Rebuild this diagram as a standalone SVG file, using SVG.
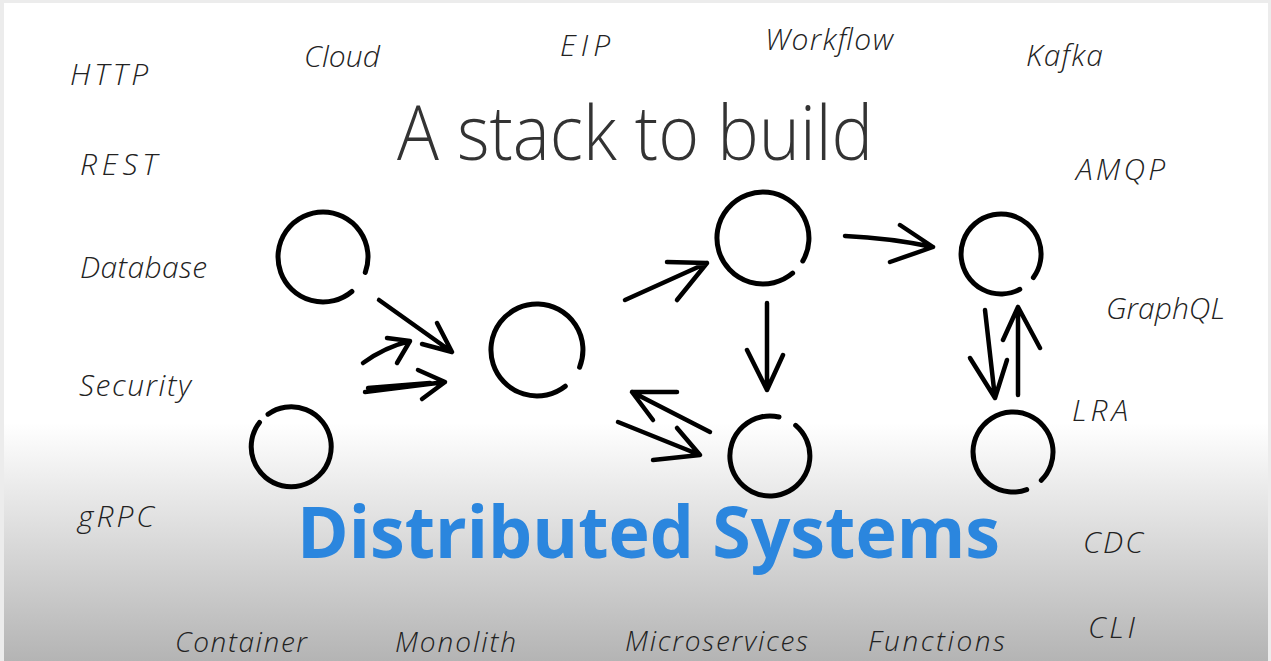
<svg xmlns="http://www.w3.org/2000/svg" width="1271" height="661" viewBox="0 0 1271 661">
<defs>
<linearGradient id="bg" x1="0" y1="0" x2="0" y2="661" gradientUnits="userSpaceOnUse">
<stop offset="0" stop-color="#ffffff"/>
<stop offset="0.64" stop-color="#ffffff"/>
<stop offset="1" stop-color="#b4b4b4"/>
</linearGradient>
<style>
.hand{font-family:"Open Sans","Liberation Sans",sans-serif;font-style:italic;font-weight:300;font-size:30px;fill:#222;}
.low{font-size:28px;}
.title{font-family:"Open Sans","Liberation Sans",sans-serif;font-weight:300;font-size:75px;fill:#333;}
.big{font-family:"Open Sans","Liberation Sans",sans-serif;font-weight:700;font-size:72px;fill:#2b86de;}
.node{fill:none;stroke:#000;stroke-width:5;stroke-linecap:round;}
.arr{fill:none;stroke:#000;stroke-width:4.5;stroke-linecap:round;stroke-linejoin:round;}
</style>
</defs>
<rect x="0" y="0" width="1271" height="661" fill="#ececec"/>
<rect x="4" y="3" width="1264" height="658" fill="url(#bg)"/>

<g id="labels">
<text class="hand" x="70" y="85" textLength="78">HTTP</text>
<text class="hand" x="304" y="67" textLength="76">Cloud</text>
<text class="hand" x="560" y="56" textLength="50">EIP</text>
<text class="hand" x="765" y="50" textLength="128">Workflow</text>
<text class="hand" x="1026" y="66" textLength="77">Kafka</text>
<text class="hand" x="80" y="175" textLength="77">REST</text>
<text class="hand" x="1076" y="180" textLength="89">AMQP</text>
<text class="hand" x="80" y="278" textLength="127">Database</text>
<text class="hand" x="1106" y="319" textLength="119">GraphQL</text>
<text class="hand" x="79" y="396" textLength="112">Security</text>
<text class="hand" x="1072" y="421" textLength="56">LRA</text>
<text class="hand" x="78" y="527" textLength="76">gRPC</text>
<text class="hand" x="1083" y="553" textLength="60">CDC</text>
<text class="hand" x="1088" y="638" textLength="47">CLI</text>
<text class="hand low" x="175" y="652" textLength="132">Container</text>
<text class="hand low" x="395" y="652" textLength="121">Monolith</text>
<text class="hand low" x="625" y="651" textLength="183">Microservices</text>
<text class="hand low" x="868" y="651" textLength="137">Functions</text>
</g>

<g id="title"><text class="title" x="397" y="160" textLength="476" lengthAdjust="spacingAndGlyphs">A stack to build</text></g>
<g id="subtitle"><text class="big" x="297" y="558" textLength="703" lengthAdjust="spacingAndGlyphs">Distributed Systems</text></g>

<g id="n1"><path class="node" d="M351.9 291.5 A45 45 0 1 1 365.3 272.4"/></g>
<g id="n2"><path class="node" d="M268 414.2 A40 40 0 1 1 259.5 422.4"/></g>
<g id="n3"><path class="node" d="M565.3 386.2 A46 46 0 1 1 579.6 367.2"/></g>
<g id="n4"><path class="node" d="M792.6 273.2 A46 46 0 1 1 802.8 261"/></g>
<g id="n5"><path class="node" d="M1019.8 289.3 A40 40 0 1 1 1033.4 277.5"/></g>
<g id="n6"><path class="node" d="M795.7 425.4 A40 40 0 1 1 779 417"/></g>
<g id="n7"><path class="node" d="M1026.7 489.6 A40 40 0 1 1 1041.3 480.3"/></g>

<g id="connectors">
<path class="arr" d="M379 300 L452 352 M437 323 L452 352 L422 344"/>
<path class="arr" d="M363 363 Q385 347 410 341 M387 338 L410 341 L397 363"/>
<path class="arr" d="M365 392 L445 382 M368 388 L430 383 M418 370 L445 382 L422 399"/>
<path class="arr" d="M625 300 L707 263 M667 262 L707 263 L677 300"/>
<path class="arr" d="M845 236 Q890 238 933 247 M900 225 L933 247 L890 262"/>
<path class="arr" d="M767 303 L767 390 M747 350 L767 390 L783 355"/>
<path class="arr" d="M985 310 L995 398 M970 358 L995 398 L1007 360"/>
<path class="arr" d="M1018 395 L1018 307 M1003 340 L1018 307 L1040 348"/>
<path class="arr" d="M710 432 L632 392 M677 392 L632 392 L653 420"/>
<path class="arr" d="M618 422 L700 455 M677 428 L700 455 L653 460"/>
</g>
</svg>
